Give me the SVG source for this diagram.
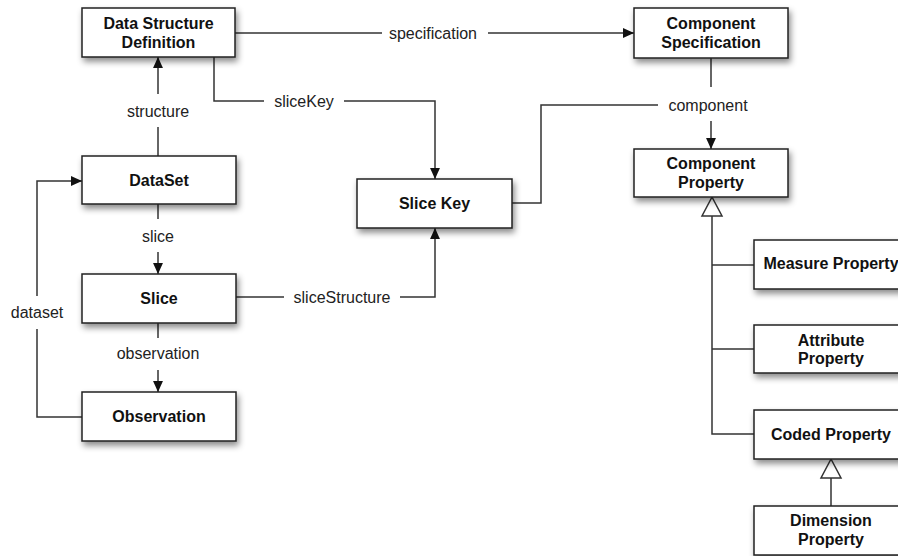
<svg xmlns="http://www.w3.org/2000/svg" width="898" height="556" viewBox="0 0 898 556">
<defs>
<filter id="sh" x="-10%" y="-20%" width="130%" height="160%">
<feDropShadow dx="2" dy="4" stdDeviation="3" flood-color="#000" flood-opacity="0.45"/>
</filter>
<marker id="arr" viewBox="0 0 10 10" refX="10" refY="5" markerWidth="11" markerHeight="11" markerUnits="userSpaceOnUse" orient="auto">
<path d="M0,0.5 L10,5 L0,9.5 Z" fill="#111"/>
</marker>
</defs>
<style>
.box{fill:#fff;stroke:#222;stroke-width:1.5;filter:url(#sh)}
.nt{font-family:"Liberation Sans",Arial,sans-serif;font-weight:bold;font-size:16px;fill:#111;text-anchor:middle}
.el{font-family:"Liberation Sans",Arial,sans-serif;font-size:16px;fill:#222;text-anchor:middle}
.ln{fill:none;stroke:#333;stroke-width:1.5}
.tri{fill:#fff;stroke:#333;stroke-width:1.5}
</style>
<rect width="898" height="556" fill="#fff"/>
<g id="connectors">
<!-- structure -->
<path class="ln" d="M158,156 V127"/>
<path class="ln" d="M158,94 V57" marker-end="url(#arr)"/>
<text class="el" x="158" y="117">structure</text>
<!-- slice -->
<path class="ln" d="M158,204 V219"/>
<path class="ln" d="M158,252 V274" marker-end="url(#arr)"/>
<text class="el" x="158" y="242">slice</text>
<!-- observation -->
<path class="ln" d="M158,323 V338"/>
<path class="ln" d="M158,370 V392" marker-end="url(#arr)"/>
<text class="el" x="158" y="359">observation</text>
<!-- dataset -->
<path class="ln" d="M82,417 H37 V329"/>
<path class="ln" d="M37,296 V181 H82" marker-end="url(#arr)"/>
<text class="el" x="37" y="318">dataset</text>
<!-- specification -->
<path class="ln" d="M235,33 H382"/>
<path class="ln" d="M488,33 H634" marker-end="url(#arr)"/>
<text class="el" x="433" y="38.5">specification</text>
<!-- sliceKey -->
<path class="ln" d="M214,57 V101 H264"/>
<path class="ln" d="M344,101 H435 V179" marker-end="url(#arr)"/>
<text class="el" x="304" y="106.5">sliceKey</text>
<!-- sliceStructure -->
<path class="ln" d="M236,297 H284"/>
<path class="ln" d="M400,297 H435 V228" marker-end="url(#arr)"/>
<text class="el" x="342" y="302.5">sliceStructure</text>
<!-- component -->
<path class="ln" d="M512,203 H541 V105 H658"/>
<path class="ln" d="M711,58 V87"/>
<path class="ln" d="M711,121 V149" marker-end="url(#arr)"/>
<text class="el" x="708" y="110.5">component</text>
<!-- inheritance to Component Property -->
<path class="ln" d="M712,216 V434 H754"/>
<path class="ln" d="M712,265 H754"/>
<path class="ln" d="M712,349 H754"/>
<path class="tri" d="M712,197 L702,216 L722,216 Z"/>
<!-- inheritance to Coded Property -->
<path class="ln" d="M831,478 V506"/>
<path class="tri" d="M831,459 L821,478 L841,478 Z"/>
</g>
<g id="dsd">
<rect class="box" x="82" y="8" width="153" height="49"/>
<text class="nt" x="158.5" y="28.5">Data Structure</text>
<text class="nt" x="158.5" y="48">Definition</text>
</g>
<g id="component-specification">
<rect class="box" x="634" y="8" width="154" height="50"/>
<text class="nt" x="711" y="28.5">Component</text>
<text class="nt" x="711" y="48">Specification</text>
</g>
<g id="component-property">
<rect class="box" x="634" y="149" width="154" height="48"/>
<text class="nt" x="711" y="168.5">Component</text>
<text class="nt" x="711" y="188">Property</text>
</g>
<g id="dataset">
<rect class="box" x="82" y="156" width="154" height="48"/>
<text class="nt" x="159" y="185.5">DataSet</text>
</g>
<g id="slice">
<rect class="box" x="82" y="274" width="154" height="49"/>
<text class="nt" x="159" y="303.5">Slice</text>
</g>
<g id="observation">
<rect class="box" x="82" y="392" width="154" height="49"/>
<text class="nt" x="159" y="421.5">Observation</text>
</g>
<g id="slice-key">
<rect class="box" x="357" y="179" width="155" height="49"/>
<text class="nt" x="434.5" y="208.5">Slice Key</text>
</g>
<g id="measure-property">
<rect class="box" x="754" y="240" width="154" height="49"/>
<text class="nt" x="831" y="268.5">Measure Property</text>
</g>
<g id="attribute-property">
<rect class="box" x="754" y="325" width="154" height="48"/>
<text class="nt" x="831" y="345.5">Attribute</text>
<text class="nt" x="831" y="364">Property</text>
</g>
<g id="coded-property">
<rect class="box" x="754" y="410" width="154" height="49"/>
<text class="nt" x="831" y="439.5">Coded Property</text>
</g>
<g id="dimension-property">
<rect class="box" x="754" y="506" width="154" height="49"/>
<text class="nt" x="831" y="525.5">Dimension</text>
<text class="nt" x="831" y="544.5">Property</text>
</g>
</svg>
